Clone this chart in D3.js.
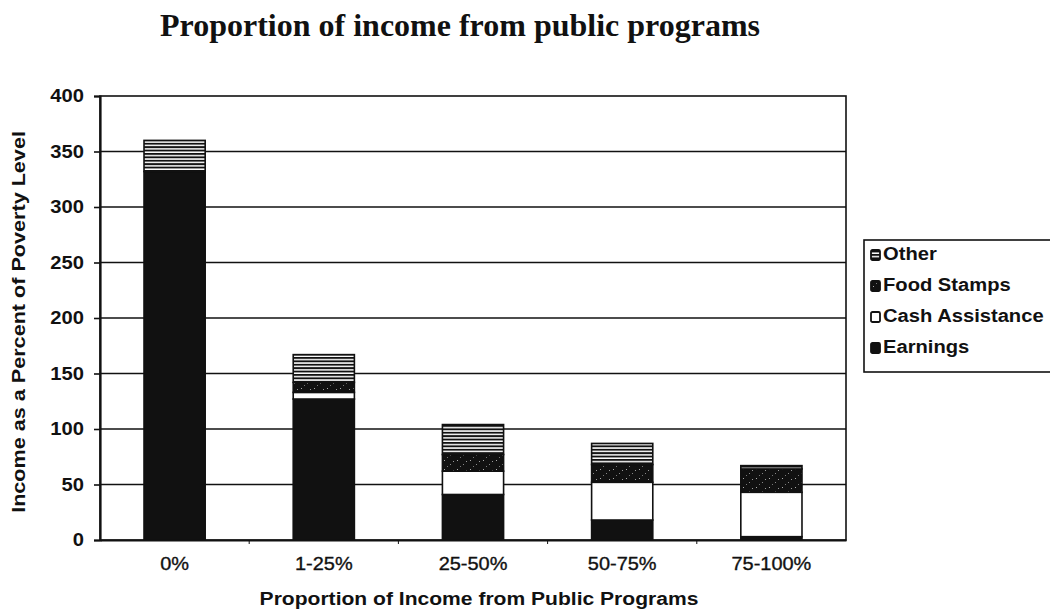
<!DOCTYPE html>
<html>
<head>
<meta charset="utf-8">
<script src="https://cdn.jsdelivr.net/npm/d3@7/dist/d3.min.js"></script>
<style>
  html, body { margin: 0; padding: 0; background: #fff; }
  svg { display: block; }
</style>
</head>
<body>
<svg id="chart" width="1050" height="609"></svg>
<script>
// Income-group categories and stacked components (percent of poverty level)
const categories = ["0%", "1-25%", "25-50%", "50-75%", "75-100%"];
const earnings   = [332, 127, 41, 18, 3];
const cash       = [0, 6, 21, 34, 40];
const foodStamps = [0, 9, 15, 16, 21];
const other      = [28, 25, 27, 19, 3];
const seriesNames = ["Earnings", "Cash Assistance", "Food Stamps", "Other"];
const yTicks = [0, 50, 100, 150, 200, 250, 300, 350, 400];

const rows = categories.map((c, i) => ({
  category: c,
  "Earnings": earnings[i],
  "Cash Assistance": cash[i],
  "Food Stamps": foodStamps[i],
  "Other": other[i]
}));

const SANS = "'Liberation Sans', Arial, Helvetica, sans-serif";
const INK = "#111";

// Widen a text selection by a factor (the sans labels run a little wide)
function widen(sel, factor) {
  sel.each(function () {
    const len = this.getComputedTextLength();
    d3.select(this).attr("textLength", len * factor).attr("lengthAdjust", "spacingAndGlyphs");
  });
}

const svg = d3.select("#chart");
const W = 1050, H = 609;
const margin = { left: 100, right: 204, top: 96, bottom: 69 };
const x0 = margin.left, x1 = W - margin.right;
const y0 = H - margin.bottom, y1 = margin.top;

// Fill patterns: speckled dark for food stamps, horizontal stripes for other
const defs = svg.append("defs");
const stripes = defs.append("pattern")
  .attr("id", "pat-other").attr("patternUnits", "userSpaceOnUse")
  .attr("width", 8).attr("height", 3.4);
stripes.append("rect").attr("width", 8).attr("height", 3.4).attr("fill", "#fff");
stripes.append("rect").attr("width", 8).attr("height", 1.9).attr("fill", INK);

const speckle = defs.append("pattern")
  .attr("id", "pat-food").attr("patternUnits", "userSpaceOnUse")
  .attr("width", 13).attr("height", 9);
speckle.append("rect").attr("width", 13).attr("height", 9).attr("fill", INK);
[[2, 1, "#aaa"], [8, 5, "#888"], [11, 2, "#999"], [5, 7, "#777"]].forEach(([px, py, c]) =>
  speckle.append("rect").attr("x", px).attr("y", py).attr("width", 1).attr("height", 1).attr("fill", c));

const fills = {
  "Earnings": INK,
  "Cash Assistance": "#fff",
  "Food Stamps": "url(#pat-food)",
  "Other": "url(#pat-other)"
};

const x = d3.scaleBand().domain(categories).range([x0, x1]).paddingInner(0.59).paddingOuter(0.295);
const y = d3.scaleLinear().domain([0, 400]).range([y0, y1]);

// Title
svg.append("text")
  .attr("x", 460).attr("y", 36)
  .attr("text-anchor", "middle")
  .attr("font-family", "'Liberation Serif', 'Times New Roman', serif")
  .attr("font-weight", "bold")
  .attr("font-size", 32)
  .attr("fill", INK)
  .text("Proportion of income from public programs");

// Gridlines
svg.append("g").selectAll("line")
  .data(yTicks.filter(t => t > 0 && t < 400))
  .join("line")
  .attr("x1", x0).attr("x2", x1)
  .attr("y1", d => y(d)).attr("y2", d => y(d))
  .attr("stroke", INK).attr("stroke-width", 1.6);

// Plot frame
svg.append("rect")
  .attr("x", x0).attr("y", y1).attr("width", x1 - x0).attr("height", y0 - y1)
  .attr("fill", "none").attr("stroke", INK).attr("stroke-width", 1.6);

// Stacked bars
const stack = d3.stack().keys(seriesNames)(rows);
svg.append("g").selectAll("g")
  .data(stack)
  .join("g")
  .attr("fill", d => fills[d.key])
  .selectAll("rect")
  .data(d => d.filter(s => s[1] - s[0] > 0))
  .join("rect")
  .attr("x", d => x(d.data.category))
  .attr("y", d => y(d[1]))
  .attr("width", x.bandwidth())
  .attr("height", d => y(d[0]) - y(d[1]))
  .attr("stroke", INK).attr("stroke-width", 1.6);

// Y axis
const yAxis = svg.append("g")
  .attr("transform", `translate(${x0},0)`)
  .call(d3.axisLeft(y).tickValues(yTicks).tickSize(6).tickPadding(10));
yAxis.select(".domain").attr("stroke", INK).attr("stroke-width", 2.2);
yAxis.selectAll(".tick line").attr("stroke", INK).attr("stroke-width", 1.6);
yAxis.selectAll(".tick text")
  .attr("font-family", SANS)
  .attr("font-size", 18).attr("font-weight", "bold").attr("fill", INK)
  .call(widen, 1.12);

// X axis
const xAxis = svg.append("g")
  .attr("transform", `translate(0,${y0})`)
  .call(d3.axisBottom(x).tickSize(0).tickPadding(17));
xAxis.select(".domain").attr("stroke", INK).attr("stroke-width", 2.2);
xAxis.selectAll(".tick text")
  .attr("font-family", SANS)
  .attr("font-size", 19).attr("fill", INK)
  .attr("stroke", INK).attr("stroke-width", 0.35)
  .call(widen, 1.05);

// Small separator ticks between categories
const step = x.step();
svg.append("g").selectAll("line")
  .data(categories.slice(1))
  .join("line")
  .attr("x1", d => x(d) - (step - x.bandwidth()) / 2)
  .attr("x2", d => x(d) - (step - x.bandwidth()) / 2)
  .attr("y1", y0).attr("y2", y0 + 4)
  .attr("stroke", INK).attr("stroke-width", 1);

// Axis titles
svg.append("text")
  .attr("transform", `translate(25,${(y0 + y1) / 2 + 4}) rotate(-90)`)
  .attr("text-anchor", "middle")
  .attr("font-family", SANS)
  .attr("font-size", 18).attr("font-weight", "bold").attr("fill", INK)
  .text("Income as a Percent of Poverty Level")
  .call(widen, 1.2);

svg.append("text")
  .attr("x", (x0 + x1) / 2 + 6).attr("y", 605)
  .attr("text-anchor", "middle")
  .attr("font-family", SANS)
  .attr("font-size", 18).attr("font-weight", "bold").attr("fill", INK)
  .text("Proportion of Income from Public Programs")
  .call(widen, 1.17);

// Legend (top series first)
const legend = svg.append("g");
legend.append("rect")
  .attr("x", 864).attr("y", 240).attr("width", 200).attr("height", 132)
  .attr("fill", "#fff").attr("stroke", INK).attr("stroke-width", 1.6);
const legendItems = seriesNames.slice().reverse();
const li = legend.selectAll("g.item")
  .data(legendItems)
  .join("g")
  .attr("class", "item")
  .attr("transform", (d, i) => `translate(871,${254 + i * 31})`);
li.append("rect")
  .attr("x", 0).attr("y", -4).attr("width", 9).attr("height", 10).attr("rx", 1.5)
  .attr("fill", d => fills[d]).attr("stroke", INK).attr("stroke-width", 1.8);
li.append("text")
  .attr("x", 12).attr("y", 6)
  .attr("font-family", SANS)
  .attr("font-size", 18).attr("font-weight", "bold").attr("fill", INK)
  .text(d => d)
  .call(widen, 1.12);
</script>
</body>
</html>
